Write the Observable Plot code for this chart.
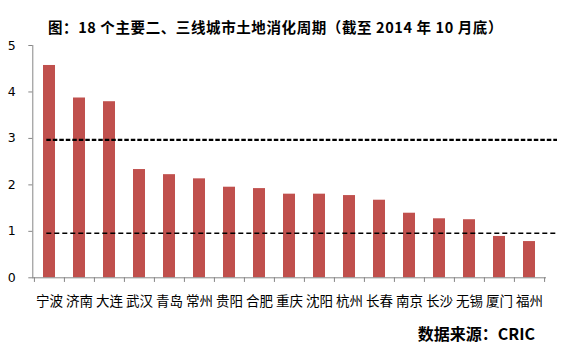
<!DOCTYPE html>
<html>
<head>
<meta charset="utf-8">
<script src="https://cdn.jsdelivr.net/npm/d3@7"></script>
<script src="https://cdn.jsdelivr.net/npm/@observablehq/plot@0.6"></script>
<style>
  html, body { margin: 0; padding: 0; background: #fff; }
  #wrap { position: relative; width: 566px; height: 355px; overflow: hidden; font-family: "Noto Sans CJK SC", "Noto Sans", sans-serif; }
  #title { position: absolute; left: 0; top: 18px; width: 551px; text-align: center; font-size: 14.5px; letter-spacing: 0.6px; font-weight: bold; line-height: 17px; color: #000; white-space: nowrap; }
  #caption { position: absolute; right: 31px; top: 324px; font-size: 16px; font-weight: bold; line-height: 18px; color: #000; white-space: nowrap; }
  #chart { position: absolute; left: 0; top: 0; }
</style>
</head>
<body>
<div id="wrap">
  <div id="chart"></div>
  <div id="title">图：18 个主要二、三线城市土地消化周期（截至 2014 年 10 月底）</div>
  <div id="caption">数据来源：CRIC</div>
</div>
<script>
const cities = ["宁波","济南","大连","武汉","青岛","常州","贵阳","合肥","重庆","沈阳","杭州","长春","南京","长沙","无锡","厦门","福州"];
const values = [4.57, 3.87, 3.79, 2.33, 2.22, 2.13, 1.95, 1.92, 1.80, 1.80, 1.77, 1.67, 1.39, 1.27, 1.25, 0.89, 0.78];
const yTicks = [0, 1, 2, 3, 4, 5];
const refLines = [2.97, 0.96];

const rows = cities.map((c, i) => ({city: c, value: values[i]}));
const step = (566 - 32.3 - 21) / cities.length;
const axisColor = "#868686";

const chart = Plot.plot({
  width: 566,
  height: 355,
  marginTop: 45,
  marginBottom: 77.7,
  marginLeft: 32.3,
  marginRight: 21,
  style: {fontFamily: "'Noto Sans CJK SC', sans-serif", background: "transparent", overflow: "visible"},
  x: {domain: cities, paddingInner: 0.6, paddingOuter: 0.3, label: null},
  y: {domain: [0, 5], label: null},
  marks: [
    Plot.barY(rows, {x: "city", y: "value", fill: "#c0504d"}),
    Plot.ruleY([refLines[0]], {stroke: "#000", strokeWidth: 2.2, strokeDasharray: "4.5,2", insetLeft: 14, insetRight: -12}),
    Plot.ruleY([refLines[1]], {stroke: "#000", strokeWidth: 1.4, strokeDasharray: "5,3", insetLeft: 14, insetRight: -12}),
    Plot.frame({anchor: "left", stroke: axisColor}),
    Plot.frame({anchor: "bottom", stroke: axisColor}),
    Plot.ruleX(cities, {x: d => d, y1: 0, y2: -0.1, dx: -step / 2, stroke: axisColor}),
    Plot.ruleX([cities[cities.length - 1]], {x: d => d, y1: 0, y2: -0.1, dx: step / 2, stroke: axisColor}),
    Plot.axisY({ticks: yTicks, tickSize: 4, tickPadding: 13, stroke: axisColor, fill: "#000", fontSize: 12.5, fontFamily: "'DejaVu Sans', sans-serif", tickFormat: d => String(d)}),
    Plot.axisX({tickSize: 0, tickPadding: 19, fill: "#000", fontSize: 13.5, fontFamily: "'Noto Sans CJK SC', sans-serif"})
  ]
});
document.getElementById("chart").appendChild(chart);
</script>
</body>
</html>
